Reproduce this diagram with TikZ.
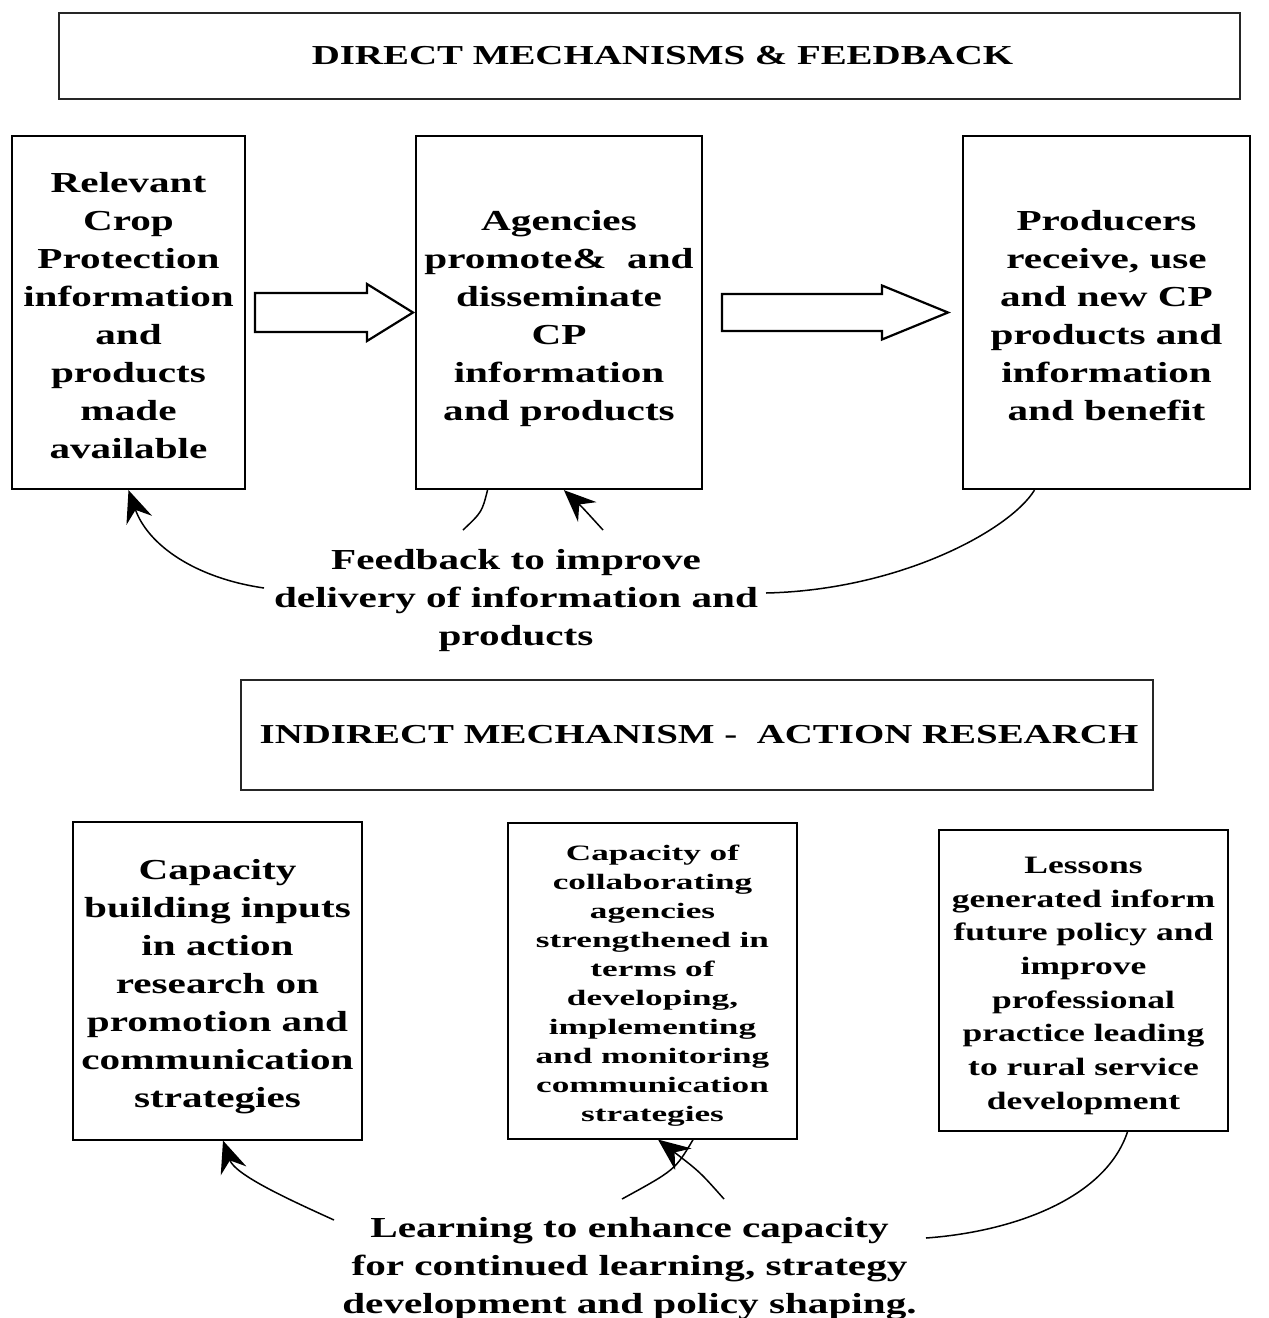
\documentclass[tikz,border=0pt]{standalone}
\usepackage{fontspec}
\setmainfont{Liberation Serif}[FakeStretch=1.42]
\newfontfamily\widerfont{Liberation Serif}[FakeStretch=1.6]
\usetikzlibrary{arrows.meta,calc}
\newcommand\firstS[1]{\rule{0pt}{\dimexpr0.7\baselineskip+#1\relax}}
\begin{document}
\begin{tikzpicture}[x=1pt,y=-1pt,
  titlebox/.style={draw=black!85, line width=1.2pt, inner sep=0pt, align=center,
    font=\bfseries\fontsize{27.4}{32}\selectfont},
  topbox/.style={draw, line width=2.2pt, inner sep=0pt, align=center,
    font=\bfseries\fontsize{29}{38}\selectfont},
  lowbox/.style={draw, line width=1.1pt, inner sep=0pt, align=center},
  freetext/.style={inner sep=0pt, align=center, font=\bfseries\fontsize{29}{38}\selectfont},
  conn/.style={line width=1.5pt},
  arrowtip/.style={-{Stealth[length=32pt,width=27pt,inset=11pt]}},
  blockarrow/.style={draw, line width=2.2pt, fill=white, line join=miter}
]
\useasboundingbox (0,0) rectangle (1269,1318);

% titles
\node[titlebox, minimum width=1181pt, minimum height=86pt] (t1) at (649.5,56)
  {\hspace*{26pt}\raisebox{-3pt}{DIRECT MECHANISMS \& FEEDBACK}};
\node[titlebox, minimum width=912pt, minimum height=110pt] (t2) at (697,735)
  {\hspace*{4pt}\raisebox{-3pt}{INDIRECT MECHANISM -~ ACTION RESEARCH}};

% top boxes
\node[topbox, minimum width=233pt, minimum height=353pt] (A) at (128.5,312.5)
  {\firstS{10pt}Relevant\\Crop\\Protection\\information\\and\\products\\made\\available\strut};
\node[topbox, minimum width=286pt, minimum height=353pt] (B) at (559,312.5)
  {\firstS{10pt}Agencies\\promote\&~ and\\disseminate\\CP\\information\\and products\strut};
\node[topbox, minimum width=287pt, minimum height=353pt] (C) at (1106.5,312.5)
  {\firstS{10pt}Producers\\receive, use\\and new CP\\products and\\information\\and benefit\strut};

% block arrows
\draw[blockarrow] (255,293) -- (367,293) -- (367,284) -- (413,312.5) -- (367,341) -- (367,332) -- (255,332) -- cycle;
\draw[blockarrow] (722,294) -- (882,294) -- (882,285.5) -- (948,312.5) -- (882,339.5) -- (882,331) -- (722,331) -- cycle;

% feedback text
\node[freetext] (fb) at (516,600)
  {\strut Feedback to improve\\delivery of information and\\products\strut};

\coordinate (fbA) at (264,588);
\coordinate (fbB1) at (463,530);
\coordinate (fbB2) at (603,530);
\coordinate (fbC) at (766,593);
\coordinate (Bout) at ($(B.south west)!0.252!(B.south east)$);
\coordinate (Bin) at ($(B.south west)!0.517!(B.south east)$);
\coordinate (Cout) at ($(C.south west)!0.251!(C.south east)$);

\draw[conn, arrowtip] (fbA) .. controls (195,578) and (148,545) .. (A.south);
\draw[conn] (Bout) .. controls (482,512) .. (fbB1);
\draw[conn, arrowtip] (fbB2) .. controls (583,508) .. (Bin);
\draw[conn] (Cout) .. controls (1010,530) and (900,590) .. (fbC);

% lower boxes
\node[lowbox, minimum width=289pt, minimum height=318pt, font=\bfseries\fontsize{29}{38}\selectfont] (D) at (217.5,981)
  {\firstS{10pt}Capacity\\building inputs\\in action\\research on\\promotion and\\communication\\strategies\strut};
\node[lowbox, minimum width=289pt, minimum height=316pt, font=\widerfont\bfseries\fontsize{22}{29}\selectfont] (E) at (652.5,981)
  {\firstS{8pt}Capacity of\\collaborating\\agencies\\strengthened in\\terms of\\developing,\\implementing\\and monitoring\\communication\\strategies\strut};
\node[lowbox, minimum width=289pt, minimum height=301pt, font=\bfseries\fontsize{25}{33.7}\selectfont] (F) at (1083.5,980.5)
  {\firstS{8pt}Lessons\\generated inform\\future policy and\\improve\\professional\\practice leading\\to rural service\\development\strut};

% learning text
\node[freetext] (ln) at (629.5,1268)
  {\strut Learning to enhance capacity\\for continued learning, strategy\\development and policy shaping.\strut};

\coordinate (lnD) at (334,1220);
\coordinate (lnE1) at (622,1199);
\coordinate (lnE2) at (724,1199);
\coordinate (lnF) at (926,1238);
\coordinate (Din) at ($(D.south west)!0.519!(D.south east)$);
\coordinate (Eout) at ($(E.south west)!0.640!(E.south east)$);
\coordinate (Ein) at ($(E.south west)!0.519!(E.south east)$);
\coordinate (Fout) at ($(F.south west)!0.652!(F.south east)$);

\draw[conn, arrowtip] (lnD) .. controls (290,1200) and (235,1175) .. (Din);
\draw[conn] (Eout) .. controls (675,1170) .. (lnE1);
\draw[conn, arrowtip] (lnE2) .. controls (700,1172) .. (Ein);
\draw[conn] (Fout) .. controls (1105,1200) and (1010,1232) .. (lnF);
\end{tikzpicture}
\end{document}
